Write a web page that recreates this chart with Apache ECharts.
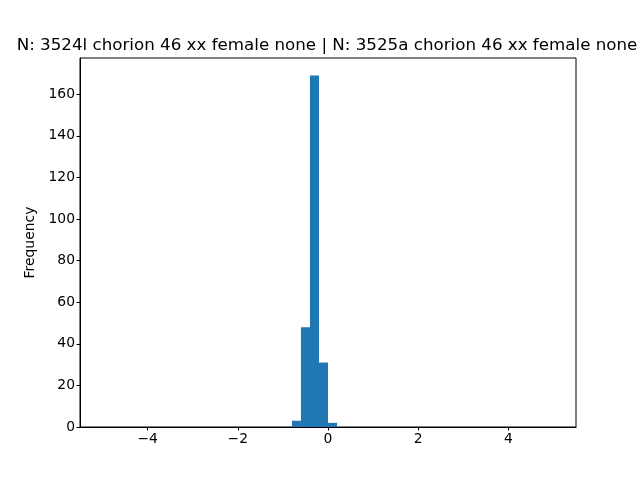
<!DOCTYPE html>
<html>
<head>
<meta charset="utf-8">
<script src="https://cdn.jsdelivr.net/npm/echarts@6/dist/echarts.min.js"></script>
<style>html,body{margin:0;padding:0;background:#fff;}#c{width:640px;height:480px;}</style>
</head>
<body>
<div id="c"></div>
<script>
const titleText = 'N: 3524l chorion 46 xx female none | N: 3525a chorion 46 xx female none';
const binStarts = [-0.8, -0.6, -0.4, -0.2, 0.0];
const binEnds = [-0.6, -0.4, -0.2, 0.0, 0.2];
const counts = [3, 48, 169, 31, 2];
const xTicks = [-4, -2, 0, 2, 4];
const yTicks = [0, 20, 40, 60, 80, 100, 120, 140, 160];

const data = binStarts.map((s, i) => [s, binEnds[i], counts[i]]);
const font = 'DejaVu Sans';
const chart = echarts.init(document.getElementById('c'), null, {renderer: 'canvas'});
chart.setOption({
  animation: false,
  backgroundColor: '#fff',
  title: {
    text: titleText,
    left: 322, top: 32, textAlign: 'center',
    textStyle: {fontFamily: font, fontSize: 16.7, fontWeight: 'normal', color: '#000'}
  },
  grid: {left: 80, right: 64, top: 58, bottom: 53, show: true, borderColor: '#000', borderWidth: 1, backgroundColor: 'transparent'},
  xAxis: {
    type: 'value', min: -5.5, max: 5.5,
    axisLine: {show: true, onZero: false, lineStyle: {color: '#000', width: 1}},
    axisTick: {show: true, length: 3.5, customValues: xTicks, lineStyle: {color: '#000'}},
    axisLabel: {customValues: xTicks, margin: 5, fontFamily: font, fontSize: 13.9, color: '#000',
      formatter: v => (v < 0 ? '\u2212' + Math.abs(v) : '' + v)},
    splitLine: {show: false}
  },
  yAxis: {
    type: 'value', min: 0, max: 177.45,
    name: 'Frequency', nameLocation: 'middle', nameGap: 41,
    nameTextStyle: {fontFamily: font, fontSize: 13.9, color: '#000'},
    axisLine: {show: true, onZero: false, lineStyle: {color: '#000', width: 1}},
    axisTick: {show: true, length: 3.5, customValues: yTicks, lineStyle: {color: '#000'}},
    axisLabel: {customValues: yTicks, margin: 5, fontFamily: font, fontSize: 13.9, color: '#000'},
    splitLine: {show: false}
  },
  series: [{
    type: 'custom',
    data: data,
    encode: {x: [0, 1], y: 2},
    renderItem: function (params, api) {
      const p0 = api.coord([api.value(0), api.value(2)]);
      const p1 = api.coord([api.value(1), 0]);
      return {
        type: 'rect',
        shape: {x: p0[0], y: p0[1], width: p1[0] - p0[0], height: p1[1] - p0[1]},
        style: {fill: '#1f77b4'}
      };
    }
  }]
});
</script>
</body>
</html>
